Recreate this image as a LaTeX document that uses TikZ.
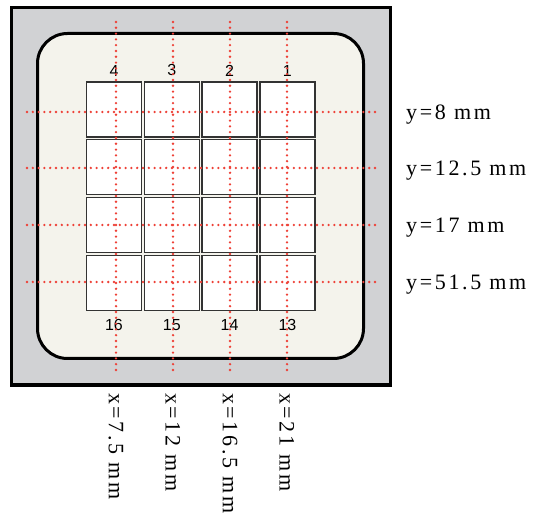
\documentclass[tikz,border=0pt]{standalone}
\usepackage{fontspec}
\usetikzlibrary{positioning}
\setmainfont{Liberation Sans}
\newfontfamily\posfont[LetterSpace=12]{Liberation Serif}
\definecolor{casegray}{HTML}{D1D2D4}
\definecolor{padcream}{HTML}{F4F3EC}
\definecolor{dotred}{HTML}{EE4036}
\tikzset{
  pixel/.style={draw=black!80, fill=white, line width=1.3pt, minimum size=55pt, inner sep=0pt},
  probe/.style={dotred, line width=2.6pt, line cap=round, dash pattern=on 0pt off 5.8pt},
  num/.style={font=\fontsize{16}{16}\selectfont, inner sep=0pt},
  poslabel/.style={font=\posfont\fontsize{22}{22}\selectfont, inner sep=0pt},
}
\begin{document}
\begin{tikzpicture}[x=1pt,y=-1pt]
        \useasboundingbox (0,0) rectangle (541,529);
        % Housing and substrate
        \draw[line width=3.5pt, fill=casegray] (11.5,7.5) rectangle (390.5,385);
        \draw[line width=3pt, fill=padcream, rounded corners=30pt] (37.5,33.5) rectangle (363.5,358.5);

        % 4x4 pixel array, numbered right to left
        \foreach \r in {1,...,4}
          \foreach \c in {1,...,4} {
            \pgfmathtruncatemacro{\n}{4*(\r-1)+5-\c}
            \node[pixel] (p\n) at ({114+57.8*(\c-1)}, {109.5+57.8*(\r-1)}) {};
          }
        \foreach \n in {1,...,4}
          \node[num, above=5pt of p\n] (top\n) {\n};
        \foreach \n in {13,...,16}
          \node[num, below=8pt of p\n] (bot\n) {\n};

        % Measuring lines
        \foreach \x/\t in {116/7.5, 173/12, 230/16.5, 287/21} {
          \draw[probe] (\x,22) -- (\x,372);
          \node[poslabel, rotate=-90, anchor=west] at (\x,393) {x=\t{} mm};
        }
        \foreach \y/\t in {112/8, 168/12.5, 225/17, 282/51.5} {
          \draw[probe] (27,\y) -- (377,\y);
          \node[poslabel, anchor=west] at (406,\y+3) {y=\t{} mm};
        }
\end{tikzpicture}
\end{document}
